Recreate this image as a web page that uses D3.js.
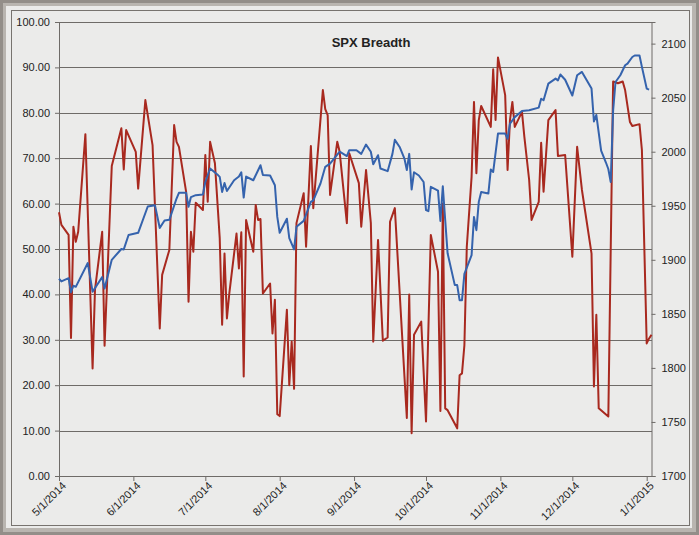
<!doctype html>
<html>
    <head>
        <style>
            body {margin:0; background:#ebebea}
            svg {display:block}
            text {font-family:"Liberation Sans", Arial, sans-serif; fill:#222}
            .axis path {fill:none; stroke:#6e6b68}
            .axis line {stroke:#6e6b68}
            .grid line {stroke:#6e6b68; shape-rendering:crispEdges}
        </style>
        <script src="https://d3js.org/d3.v7.min.js"></script>
    </head>
    <body>
        <script>
            // breadth (left axis, red)
            var redDates = ["2014-05-01","2014-05-02","2014-05-05","2014-05-06","2014-05-07","2014-05-08","2014-05-09","2014-05-12","2014-05-15","2014-05-16",
                "2014-05-19","2014-05-20","2014-05-23","2014-05-27","2014-05-28","2014-05-29","2014-06-02","2014-06-03","2014-06-06","2014-06-09",
                "2014-06-12","2014-06-13","2014-06-16","2014-06-18","2014-06-19","2014-06-20","2014-06-23","2014-06-24","2014-06-25","2014-06-26",
                "2014-06-27","2014-06-30","2014-07-01","2014-07-02","2014-07-03","2014-07-05","2014-07-07","2014-07-08","2014-07-09","2014-07-10",
                "2014-07-11","2014-07-14","2014-07-15","2014-07-16","2014-07-17","2014-07-18","2014-07-21","2014-07-22","2014-07-23","2014-07-24",
                "2014-07-25","2014-07-28","2014-07-29","2014-07-30","2014-07-31","2014-08-01","2014-08-04","2014-08-05","2014-08-06","2014-08-07",
                "2014-08-08","2014-08-11","2014-08-12","2014-08-14","2014-08-15","2014-08-19","2014-08-20","2014-08-21","2014-08-22","2014-08-25",
                "2014-08-26","2014-08-29","2014-08-30","2014-09-03","2014-09-04","2014-09-06","2014-09-08","2014-09-09","2014-09-11","2014-09-13",
                "2014-09-15","2014-09-16","2014-09-18","2014-09-23","2014-09-24","2014-09-25","2014-09-26","2014-09-29","2014-10-01","2014-10-03",
                "2014-10-06","2014-10-07","2014-10-08","2014-10-09","2014-10-10","2014-10-14","2014-10-15","2014-10-16","2014-10-17","2014-10-18",
                "2014-10-20","2014-10-21","2014-10-22","2014-10-23","2014-10-24","2014-10-28","2014-10-29","2014-10-30","2014-10-31","2014-11-03",
                "2014-11-04","2014-11-05","2014-11-06","2014-11-07","2014-11-10","2014-11-11","2014-11-13","2014-11-14","2014-11-17","2014-11-18",
                "2014-11-19","2014-11-21","2014-11-24","2014-11-25","2014-11-28","2014-12-01","2014-12-03","2014-12-05","2014-12-09","2014-12-10",
                "2014-12-11","2014-12-12","2014-12-16","2014-12-18","2014-12-20","2014-12-22","2014-12-23","2014-12-25","2014-12-26","2014-12-29",
                "2014-12-30","2015-01-01","2015-01-02","2015-01-03"];
            var redValues = [58.1,55.3,53.1,30.4,54.9,51.6,53.8,75.3,23.7,41.0,
                53.8,28.7,68.3,76.6,67.5,76.2,71.4,63.3,82.8,72.9,
                32.5,44.3,49.8,77.3,73.6,72.5,62.6,38.4,53.8,49.4,
                60.2,58.6,70.7,60.4,73.6,68.9,52.4,33.3,49.0,34.7,
                40.2,53.4,45.7,53.7,21.9,56.4,49.4,59.7,56.4,56.6,
                40.2,42.4,31.4,38.8,13.6,13.2,36.6,20.0,29.6,19.2,
                55.7,62.3,50.5,72.7,59.0,85.0,80.8,79.5,61.9,73.6,
                71.4,55.7,71.1,64.5,54.9,67.4,55.7,29.6,52.0,29.8,
                30.5,56.0,59.0,12.8,40.0,9.4,31.1,34.0,12.0,53.1,
                45.0,14.3,60.0,14.9,14.5,10.5,22.2,22.6,28.8,50.5,
                65.9,82.4,66.7,78.4,81.5,76.9,89.6,78.4,92.2,83.9,
                67.4,78.4,82.4,76.9,80.2,74.7,65.2,56.4,60.4,73.4,
                62.6,78.4,80.6,70.5,70.7,48.3,72.5,63.0,49.0,19.7,
                35.5,14.9,13.1,86.9,86.5,86.9,85.0,78.0,77.1,77.5,
                71.8,29.2,30.3,31.1];

            // SPX close (right axis, blue)
            var blueDates = ["2014-05-01","2014-05-02","2014-05-05","2014-05-06","2014-05-07","2014-05-08","2014-05-13","2014-05-15","2014-05-19","2014-05-20",
                "2014-05-23","2014-05-27","2014-05-28","2014-05-30","2014-06-03","2014-06-07","2014-06-10","2014-06-12","2014-06-14","2014-06-16",
                "2014-06-19","2014-06-20","2014-06-23","2014-06-24","2014-06-25","2014-06-27","2014-06-30","2014-07-01","2014-07-03","2014-07-06",
                "2014-07-07","2014-07-08","2014-07-09","2014-07-10","2014-07-13","2014-07-15","2014-07-16","2014-07-17","2014-07-18","2014-07-21",
                "2014-07-24","2014-07-25","2014-07-28","2014-07-30","2014-07-31","2014-08-01","2014-08-04","2014-08-05","2014-08-07","2014-08-08",
                "2014-08-11","2014-08-14","2014-08-15","2014-08-18","2014-08-20","2014-08-22","2014-08-26","2014-08-29","2014-08-30","2014-09-02",
                "2014-09-04","2014-09-06","2014-09-08","2014-09-09","2014-09-11","2014-09-12","2014-09-15","2014-09-17","2014-09-18","2014-09-20",
                "2014-09-22","2014-09-23","2014-09-24","2014-09-25","2014-09-26","2014-09-28","2014-09-30","2014-10-01","2014-10-02","2014-10-03",
                "2014-10-06","2014-10-07","2014-10-08","2014-10-09","2014-10-10","2014-10-13","2014-10-14","2014-10-15","2014-10-16","2014-10-17",
                "2014-10-20","2014-10-21","2014-10-22","2014-10-23","2014-10-24","2014-10-27","2014-10-28","2014-10-29","2014-10-31","2014-11-03",
                "2014-11-04","2014-11-05","2014-11-07","2014-11-10","2014-11-13","2014-11-17","2014-11-18","2014-11-19","2014-11-21","2014-11-24",
                "2014-11-25","2014-11-26","2014-11-28","2014-12-01","2014-12-03","2014-12-05","2014-12-09","2014-12-10","2014-12-11","2014-12-13",
                "2014-12-15","2014-12-16","2014-12-17","2014-12-18","2014-12-19","2014-12-21","2014-12-23","2014-12-24","2014-12-26","2014-12-27",
                "2014-12-29","2014-12-30","2015-01-01","2015-01-02"];
            var blueValues = [1882.5,1880,1883,1870,1876,1875,1897,1870.5,1884,1873.5,
                1900,1910,1909.6,1923,1925,1949.3,1950.5,1929.5,1936.3,1937,
                1956.7,1962,1962,1949,1958,1959.8,1960.4,1972,1984.5,1979,
                1976.7,1962.8,1971,1963.7,1973.6,1977,1981,1957.6,1977,1973.6,
                1987.5,1978.5,1978,1969,1939.7,1925,1938,1920,1909.6,1930.5,
                1936,1953.6,1955,1970.6,1986,1989,2000,1996,2001.4,2001.4,
                1998,2006.6,2000,1988.4,1996.8,1984.5,1982,1998,2011,2004.4,
                1993.7,1983,1998,1965,1981,1978,1972,1946,1945,1967.5,
                1964,1936,1968,1936.7,1906,1876.6,1876.6,1862.7,1862.7,1887,
                1904.3,1939.7,1927.4,1953.6,1962.8,1961.4,1983.5,1981.3,2016.8,2016.8,
                2012,2026,2032,2037.7,2038.4,2040.8,2049,2047.6,2063,2067.6,
                2066,2071.4,2066.6,2052,2070.7,2073.8,2058.4,2028,2034,2001,
                1990,1984,1972,2038,2064.5,2070.7,2080,2081.5,2087.6,2089,
                2089,2078.5,2058.4,2057.5];

            var leftTicks = [0,10,20,30,40,50,60,70,80,90,100];
            var rightTicks = [1700,1750,1800,1850,1900,1950,2000,2050,2100];
            var monthTicks = ["2014-05-01","2014-06-01","2014-07-01","2014-08-01","2014-09-01","2014-10-01","2014-11-01","2014-12-01","2015-01-01"];
            var title = "SPX Breadth";

            var W = 699, H = 535;
            var plotL = 59, plotR = 651.5, plotT = 22, plotB = 476;
            var parse = d3.timeParse("%Y-%m-%d");

            var svg = d3.select("body").append("svg").attr("width", W).attr("height", H);

            // frame
            svg.append("rect").attr("width", W).attr("height", H).attr("fill", "#938e89");
            svg.append("rect").attr("x", 3).attr("y", 3).attr("width", W - 6).attr("height", H - 6).attr("fill", "#b9b5b0");
            svg.append("rect").attr("x", 6).attr("y", 6).attr("width", W - 13).attr("height", H - 13).attr("fill", "#ebebea");
            svg.append("rect").attr("x", 11.5).attr("y", 10.5).attr("width", 678).attr("height", 515)
                .attr("fill", "none").attr("stroke", "#77736f");

            var x = d3.scaleTime().domain([parse("2014-05-01"), parse("2015-01-03")]).range([plotL, plotR]);
            var yL = d3.scaleLinear().domain([0, 100]).range([plotB, plotT]);
            var yR = d3.scaleLinear().domain([1700, 2120]).range([plotB, plotT]);

            // gridlines
            svg.append("g").attr("class", "grid").selectAll("line")
                .data(leftTicks).enter().append("line")
                .attr("x1", plotL).attr("x2", plotR)
                .attr("y1", function(d){return Math.round(yL(d)) + 0.5})
                .attr("y2", function(d){return Math.round(yL(d)) + 0.5});

            // left axis
            var gL = svg.append("g").attr("class", "axis").attr("transform", "translate(" + plotL + ",0)")
                .call(d3.axisLeft(yL).tickValues(leftTicks).tickFormat(d3.format(".2f")).tickSizeOuter(0).tickSize(4));
            gL.selectAll("text").attr("font-size", 11).attr("dx", -2);

            // right axis
            var gR = svg.append("g").attr("class", "axis").attr("transform", "translate(" + plotR + ",0)")
                .call(d3.axisRight(yR).tickValues(rightTicks).tickFormat(d3.format("d")).tickSizeOuter(0).tickSize(4));
            gR.selectAll("text").attr("font-size", 11).attr("dx", 3);

            // bottom axis
            var gB = svg.append("g").attr("class", "axis").attr("transform", "translate(0," + plotB + ")")
                .call(d3.axisBottom(x).tickValues(monthTicks.map(parse)).tickFormat(d3.timeFormat("%-m/%-d/%Y")).tickSizeOuter(0).tickSize(5));
            gB.selectAll("text").attr("font-size", 11)
                .attr("text-anchor", "end")
                .attr("transform", "rotate(-45)")
                .attr("dx", "-0.2em").attr("dy", "0.6em")
                .attr("x", 0).attr("y", 6);
            gB.select(".domain").remove();
            svg.append("line").attr("x1", plotL).attr("x2", plotR).attr("y1", plotB + 0.5).attr("y2", plotB + 0.5)
                .attr("stroke", "#6e6b68");

            // series
            var redData = redDates.map(function(d, i){return {date: parse(d), value: redValues[i]}});
            var blueData = blueDates.map(function(d, i){return {date: parse(d), value: blueValues[i]}});

            svg.append("path").datum(redData)
                .attr("fill", "none").attr("stroke", "#a8291f").attr("stroke-width", 2).attr("stroke-linejoin", "round")
                .attr("d", d3.line().x(function(d){return x(d.date)}).y(function(d){return yL(d.value)}));

            svg.append("path").datum(blueData)
                .attr("fill", "none").attr("stroke", "#3563ad").attr("stroke-width", 2).attr("stroke-linejoin", "round")
                .attr("d", d3.line().x(function(d){return x(d.date)}).y(function(d){return yR(d.value)}));

            // title
            svg.append("text").attr("x", 371).attr("y", 47).attr("text-anchor", "middle")
                .attr("font-size", 13).attr("font-weight", "bold").text(title);
        </script>
    </body>
</html>
